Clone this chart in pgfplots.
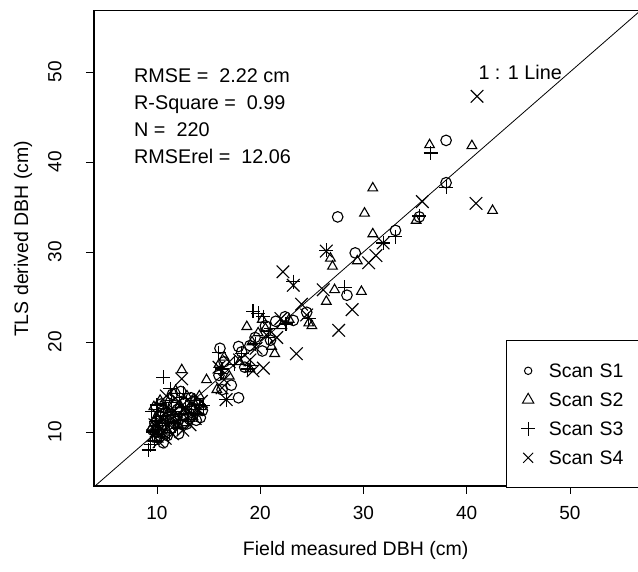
\documentclass[border=0pt]{standalone}
\usepackage{fontspec}
\setmainfont{Liberation Sans}
\usepackage{pgfplots}
\pgfplotsset{compat=1.18}
\begin{document}
\begin{tikzpicture}
\begin{axis}[
  at={(0,0)}, anchor=south west,
  scale only axis, width=546.2pt, height=475.2pt,
  xmin=3.9, xmax=56.8, ymin=4.0, ymax=56.8,
  xtick={10,20,30,40,50}, ytick={10,20,30,40,50},
  xticklabels={10,20,30,40,50}, yticklabels={10,20,30,40,50},
  xtick pos=bottom, ytick pos=left, tick align=outside,
  major tick length=8pt,
  every tick/.style={black, line width=0.9pt},
  axis line style={black, line width=1.2pt},
  xticklabel style={font=\fontsize{19}{19}\selectfont, inner sep=0pt, anchor=base, yshift=-25.5pt},
  yticklabel style={font=\fontsize{19}{19}\selectfont, inner sep=0pt, xshift=-24.5pt, rotate=90, anchor=base},
  xlabel={Field measured DBH (cm)},
  ylabel={TLS derived DBH (cm)},
  label style={font=\fontsize{19.5}{20}\selectfont, inner sep=0pt},
  xlabel style={at={(axis description cs:0.479,-0.1462)}, anchor=base},
  ylabel style={at={(axis description cs:-0.1208,0.52)}, anchor=base},
  legend style={at={(axis cs:43.8,20.2)}, anchor=north west, draw=black, line width=1.2pt,
    inner xsep=11pt, inner ysep=21pt, row sep=11pt, font=\fontsize{19.5}{20}\selectfont,
    nodes={text width=90pt, inner xsep=10pt, inner ysep=0pt, text height=16pt, text depth=2pt, align=left}},
  legend cell align=left,
  legend image code/.code={\path (-10pt,0pt) (10pt,0pt); \draw[#1] plot coordinates {(0pt,0pt)};},
]
% 1:1 line
\addplot[black, line width=0.8pt, forget plot] coordinates {(3.9,3.9) (56.8,56.8)};

% Scan S1 (circles)
\addplot[only marks, mark=o, mark size=5.3pt, mark options={black, line width=1.1pt}, forget plot] coordinates {
(38.0,42.4) (38.0,37.7) (35.4,33.9) (33.1,32.4) (27.5,33.9) (29.2,29.9) (28.4,25.2)
(23.2,22.4) (22.4,22.8) (24.5,23.3)
(19.5,20.5) (20.5,21.8) (21.0,20.2) (19.0,19.6) (18.2,18.9) (17.9,19.5) (20.2,19.0) (21.5,22.3)
(16.1,19.3) (16.3,14.7) (17.9,13.8) (16.5,17.8) (17.2,15.2) (18.5,17.2) (16.0,16.3)
(9.6,10.2) (9.8,11.0) (10.0,9.4) (10.1,10.6) (10.2,11.8) (10.3,9.9) (10.5,12.3) (10.6,8.8)
(10.7,10.8) (10.9,11.5) (11.0,9.6) (11.2,12.0) (11.4,10.4) (11.6,13.0) (11.8,11.2) (12.0,12.5)
(12.1,9.8) (12.3,14.5) (12.5,11.8) (12.7,13.2) (12.9,10.9) (13.1,12.1) (13.3,13.8) (13.6,12.6)
(13.8,11.3) (14.0,13.1) (14.2,11.6) (14.4,12.4) (10.4,13.1) (11.5,14.2)
};

% Scan S2 (triangles)
\addplot[only marks, mark=triangle, mark size=5.6pt, mark options={black, line width=1.1pt}, forget plot] coordinates {
(36.4,41.9) (40.5,41.8) (42.5,34.6) (30.9,37.1) (30.1,34.3) (35.1,33.5) (30.9,32.0) (26.8,29.3)
(27.0,28.4) (29.4,29.0) (27.2,25.8) (29.8,25.6) (26.4,24.5)
(24.7,22.1) (22.8,22.5) (25.0,21.8)
(18.7,21.7) (19.8,21.0) (20.5,21.5) (21.1,19.5) (21.4,18.7) (20.2,22.5) (19.2,20.0) (22.1,21.8)
(14.8,15.8) (15.8,14.7) (16.0,17.5) (16.5,18.3) (18.0,17.8) (17.0,16.2) (19.0,17.0)
(9.5,10.5) (9.7,12.8) (9.9,11.6) (10.1,9.2) (10.3,13.5) (10.5,11.0) (10.8,12.5) (11.0,10.2)
(11.3,13.8) (11.5,11.5) (11.8,14.6) (12.0,10.8) (12.2,13.0) (12.4,16.9) (12.6,12.2) (12.9,14.0)
(13.2,11.5) (13.5,13.4) (13.8,12.2) (14.1,14.0) (14.3,12.8) (10.2,10.0) (11.1,12.1) (12.8,11.0)
};

% Scan S3 (plus)
\addplot[only marks, mark=+, mark size=7pt, mark options={black, line width=1.1pt}, forget plot] coordinates {
(36.5,41.0) (38.0,37.2) (35.4,34.0) (33.1,31.7) (31.9,31.0) (26.4,30.2) (28.2,26.1)
(23.2,26.7) (24.7,22.6) (22.5,22.0)
(19.3,23.4) (19.8,23.2) (20.8,20.5) (18.2,18.7) (19.5,19.8) (21.0,21.5) (20.3,22.8)
(16.7,13.6) (16.0,18.8) (16.3,17.0) (17.5,17.5) (18.8,17.0) (16.2,16.5) (19.1,17.4)
(9.2,8.0) (9.4,8.6) (9.5,12.3) (9.6,10.0) (9.8,9.0) (9.9,11.2) (10.0,13.0) (10.1,10.3)
(10.3,11.7) (10.4,9.5) (10.6,16.1) (10.6,12.6) (10.8,10.9) (11.0,11.8) (11.2,9.9) (11.4,13.3)
(11.6,11.0) (11.8,12.3) (12.0,10.4) (12.2,13.8) (12.4,12.0) (12.6,14.3) (12.8,12.8) (13.0,11.4)
(13.3,12.5) (13.6,13.5) (13.9,12.0) (14.1,13.0) (14.5,12.9) (11.3,14.8) (12.1,11.3)
};

% Scan S4 (x)
\addplot[only marks, mark=x, mark size=8.9pt, mark options={black, line width=1.1pt}, forget plot] coordinates {
(41.0,47.3) (40.9,35.4) (35.7,35.6) (31.9,31.0) (30.5,28.8) (31.2,29.6) (26.4,30.1) (26.1,25.8)
(28.9,23.6) (27.6,21.3)
(23.2,26.3) (22.2,27.8) (24.0,24.2) (23.5,18.7) (24.5,23.0)
(20.3,17.1) (19.0,18.0) (20.6,20.8) (21.6,20.5) (19.6,19.3) (22.0,22.6)
(16.7,13.6) (16.3,14.9) (16.0,17.2) (17.0,17.8) (18.0,18.0) (16.5,15.8) (19.3,16.8)
(9.6,9.6) (9.8,10.8) (10.0,12.0) (10.2,8.9) (10.4,10.4) (10.6,11.3) (10.8,9.3) (11.0,12.8)
(11.2,10.8) (11.5,9.8) (11.7,12.4) (11.9,11.0) (12.1,13.4) (12.4,15.9) (12.5,10.2) (12.7,12.7)
(13.0,13.6) (13.2,10.8) (13.4,12.0) (13.7,11.5) (14.0,12.5) (14.3,13.4) (10.9,14.0) (12.3,11.6)
(9.9,10.1) (11.4,12.0) (10.5,10.0)
};

\addlegendimage{only marks, mark=o, mark size=3.7pt, mark options={black, line width=1pt}}
\addlegendentry{Scan S1}
\addlegendimage{only marks, mark=triangle, mark size=6.5pt, mark options={black, line width=1pt}}
\addlegendentry{Scan S2}
\addlegendimage{only marks, mark=+, mark size=7pt, mark options={black, line width=1pt}}
\addlegendentry{Scan S3}
\addlegendimage{only marks, mark=x, mark size=7pt, mark options={black, line width=1pt}}
\addlegendentry{Scan S4}

\begin{scope}[every node/.style={inner sep=0pt, anchor=base west, font=\fontsize{19.8}{20}\selectfont}]
\node at (axis cs:7.77,48.78) {RMSE = ~2.22 cm};
\node at (axis cs:7.77,45.78) {R-Square = ~0.99};
\node at (axis cs:7.77,42.78) {N = ~220};
\node at (axis cs:7.77,39.78) {RMSErel = ~12.06};
\node at (axis cs:41.12,49.2) {1 : 1 Line};
\end{scope}
\end{axis}
\pgfresetboundingbox
\path[use as bounding box] (-94pt,-86pt) rectangle (544pt,486pt);
\end{tikzpicture}
\end{document}
